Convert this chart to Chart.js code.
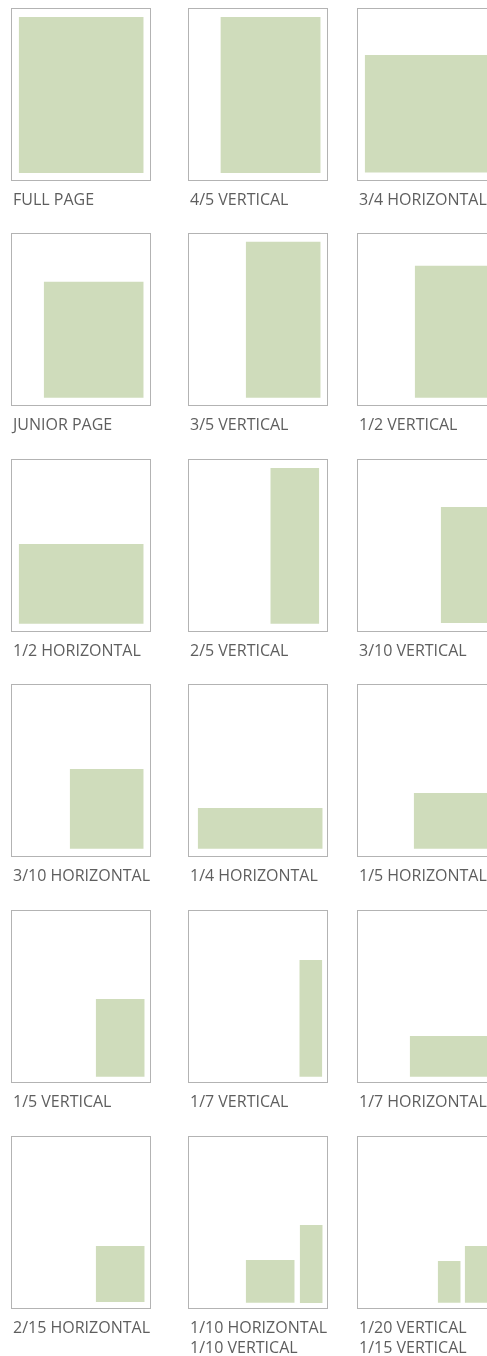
<!DOCTYPE html>
<html>
<head>
<meta charset="utf-8">
<script src="https://cdn.jsdelivr.net/npm/chart.js@4/dist/chart.umd.min.js"></script>
<style>
  html, body { margin: 0; padding: 0; background: #fff; }
  body { width: 487px; height: 1356px; overflow: hidden; position: relative; }
  .frame { position: absolute; box-sizing: border-box; border: 1px solid #b3b3b3; pointer-events: none; }
  .cv { position: absolute; }
  .lbl { position: absolute; font-family: "Open Sans", "Noto Sans", sans-serif; font-size: 16px; line-height: 20px;
         color: #5e5e5e; white-space: pre; letter-spacing: 0px; }
</style>
</head>
<body>
<script>
// ---- data (units = px inside each page frame, origin bottom-left) ----
const panelLabels = [
  "FULL PAGE", "4/5 VERTICAL", "3/4 HORIZONTAL",
  "JUNIOR PAGE", "3/5 VERTICAL", "1/2 VERTICAL",
  "1/2 HORIZONTAL", "2/5 VERTICAL", "3/10 VERTICAL",
  "3/10 HORIZONTAL", "1/4 HORIZONTAL", "1/5 HORIZONTAL",
  "1/5 VERTICAL", "1/7 VERTICAL", "1/7 HORIZONTAL",
  "2/15 HORIZONTAL", "1/10 HORIZONTAL\n1/10 VERTICAL", "1/20 VERTICAL\n1/15 VERTICAL"
];
const adPanel  = [0, 1, 2, 3, 4, 5, 6, 7, 8, 9, 10, 11, 12, 13, 14, 15, 16, 16, 17, 17];
const adLeft   = [7.7, 32.4, 7.7, 32.7, 57.7, 57.7, 7.7, 82.3, 83.7, 58.7, 9.7, 56.7, 84.7, 111.3, 52.7, 84.7, 57.7, 111.7, 80.7, 107.7];
const adRight  = [132.7, 132.7, 132.7, 132.7, 132.7, 132.7, 132.7, 131.3, 132.7, 132.7, 134.7, 132.7, 133.7, 134.3, 132.7, 133.7, 106.7, 134.7, 103.7, 130.7];
const adBottom = [8, 8, 8.5, 8.3, 8.3, 8.3, 8.3, 8.3, 9, 8.3, 8.3, 8.3, 6.3, 6.3, 6.3, 7, 6.3, 6, 6.3, 6.3];
const adTop    = [164, 164, 126, 124.3, 164.3, 140.3, 88, 164, 125, 88, 49, 64, 84, 123, 47, 63, 49, 84, 48, 63];
const frameWidth = 140, frameHeight = 173;

// ---- layout ----
const colX = [11, 188, 357];
const rowY = [8, 233, 459, 684, 910, 1136];
const GREEN = "rgb(207,220,187)";

panelLabels.forEach((label, p) => {
  const left = colX[p % 3], top = rowY[Math.floor(p / 3)];
  const canvas = document.createElement("canvas");
  canvas.className = "cv";
  canvas.width = frameWidth; canvas.height = frameHeight;
  canvas.style.left = left + "px"; canvas.style.top = top + "px";
  canvas.style.width = frameWidth + "px"; canvas.style.height = frameHeight + "px";
  document.body.appendChild(canvas);

  const frame = document.createElement("div");
  frame.className = "frame";
  frame.style.left = left + "px"; frame.style.top = top + "px";
  frame.style.width = frameWidth + "px"; frame.style.height = frameHeight + "px";
  document.body.appendChild(frame);

  const lbl = document.createElement("div");
  lbl.className = "lbl";
  lbl.textContent = label;
  lbl.style.left = (left + 2) + "px";
  lbl.style.top = (top + frameHeight + 8) + "px";
  document.body.appendChild(lbl);

  const datasets = [];
  adPanel.forEach((ap, i) => {
    if (ap !== p) return;
    datasets.push({
      data: [{x: adLeft[i], y: adTop[i]}, {x: adRight[i], y: adTop[i]}],
      showLine: true,
      borderWidth: 0,
      borderColor: "rgba(0,0,0,0)",
      backgroundColor: GREEN,
      pointRadius: 0,
      pointHoverRadius: 0,
      fill: {value: adBottom[i]}
    });
  });

  new Chart(canvas, {
    type: "scatter",
    data: {datasets},
    options: {
      responsive: false,
      animation: false,
      devicePixelRatio: 1,
      layout: {padding: 0},
      events: [],
      plugins: {legend: {display: false}, tooltip: {enabled: false}, title: {display: false}},
      scales: {
        x: {type: "linear", min: 0, max: frameWidth, display: false},
        y: {type: "linear", min: 0, max: frameHeight, display: false}
      }
    }
  });
});
</script>
</body>
</html>
